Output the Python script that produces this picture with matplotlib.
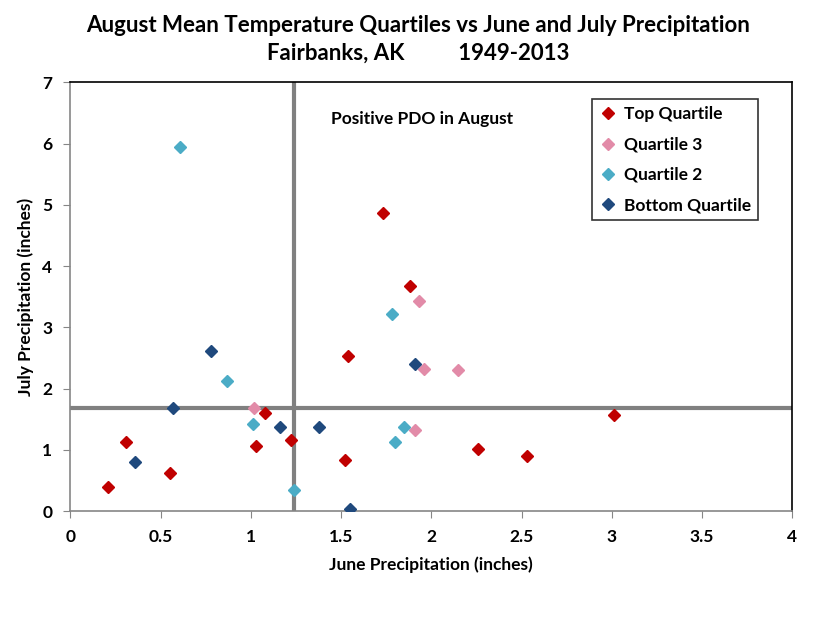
import matplotlib
matplotlib.use('Agg')
import matplotlib.pyplot as plt

# June / July precipitation (inches), by August temperature quartile
top_june = [0.21, 0.31, 0.55, 1.03, 1.08, 1.22, 1.52, 1.54, 1.73, 1.88, 2.26, 2.53, 3.01]
top_july = [0.39, 1.12, 0.62, 1.07, 1.60, 1.16, 0.83, 2.53, 4.87, 3.67, 1.01, 0.90, 1.56]

q3_june = [1.02, 1.93, 1.96, 2.15, 1.91]
q3_july = [1.69, 3.43, 2.32, 2.31, 1.32]

q2_june = [0.61, 0.87, 1.01, 1.24, 1.78, 1.85, 1.80]
q2_july = [5.95, 2.12, 1.42, 0.34, 3.21, 1.37, 1.12]

bot_june = [0.57, 0.78, 0.36, 1.16, 1.38, 1.91, 1.55]
bot_july = [1.69, 2.62, 0.80, 1.38, 1.37, 2.40, 0.04]

june_mean = 1.24
july_mean = 1.69

series = [
    ('Top Quartile', top_june, top_july, '#C00000'),
    ('Quartile 3', q3_june, q3_july, '#E28BA8'),
    ('Quartile 2', q2_june, q2_july, '#4BACC6'),
    ('Bottom Quartile', bot_june, bot_july, '#1F497D'),
]

plt.rcParams['font.family'] = ['Lato', 'DejaVu Sans']
plt.rcParams['font.weight'] = 'bold'
fs = 12.5

fig = plt.figure(figsize=(8.37, 6.38), dpi=100)
ax = fig.add_axes([0.084, 0.199, 0.8626, 0.672])

ax.axvline(june_mean, color='#808080', lw=3, zorder=1)
ax.axhline(july_mean, color='#808080', lw=3, zorder=1)

for name, xs, ys, col in series:
    ax.plot(xs, ys, linestyle='none', marker='D', markersize=6.5,
            color=col, label=name, zorder=3)

ax.set_xlim(0, 4)
ax.set_ylim(0, 7)
ax.set_xticks([0, 0.5, 1, 1.5, 2, 2.5, 3, 3.5, 4])
ax.set_xticklabels(['0', '0.5', '1', '1.5', '2', '2.5', '3', '3.5', '4'])
ax.set_yticks(range(8))

for s in ['left', 'bottom']:
    ax.spines[s].set_color('#868686')
    ax.spines[s].set_linewidth(1.2)
for s in ['top', 'right']:
    ax.spines[s].set_color('black')
    ax.spines[s].set_linewidth(1.2)
ax.tick_params(direction='out', length=5, color='#868686', labelsize=fs, pad=8)
for lab in ax.get_xticklabels() + ax.get_yticklabels():
    lab.set_fontweight('bold')

ax.set_xlabel('June Precipitation (inches)', fontsize=fs, fontweight='bold', labelpad=8)
ax.set_ylabel('July Precipitation (inches)', fontsize=fs, fontweight='bold', labelpad=6)

ax.text(1.95, 6.4, 'Positive PDO in August', ha='center', va='center',
        fontsize=fs, fontweight='bold')

fig.text(0.5, 0.96, 'August Mean Temperature Quartiles vs June and July Precipitation',
         ha='center', va='center', fontsize=16, fontweight='bold')
fig.text(0.5, 0.917, 'Fairbanks, AK          1949-2013',
         ha='center', va='center', fontsize=16, fontweight='bold')

leg = ax.legend(loc='upper left', bbox_to_anchor=(0.723, 0.960), frameon=True,
                fancybox=False, edgecolor='black', handletextpad=0.45,
                handlelength=1.0, labelspacing=0.82, borderpad=0.4,
                borderaxespad=0, prop={'size': fs, 'weight': 'bold'})
leg.get_frame().set_linewidth(1.2)

fig.savefig('out.png', dpi=100)
